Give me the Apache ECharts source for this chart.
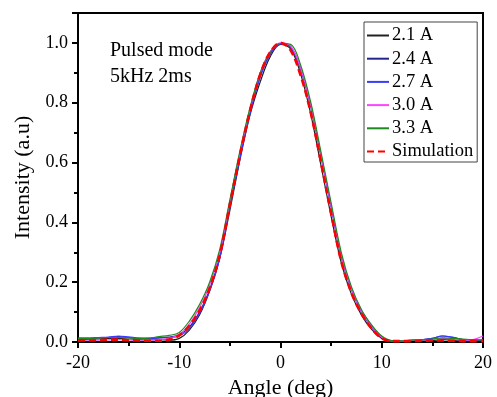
<!DOCTYPE html>
<html>
<head>
<meta charset="utf-8">
<script src="https://cdn.jsdelivr.net/npm/echarts@6/dist/echarts.min.js"></script>
<style>html,body{margin:0;padding:0;background:#fff}#c{width:497px;height:397px}</style>
</head>
<body>
<div id="c"></div>
<script>
const angles = [-20,-19,-18,-17,-16,-15,-14,-13,-12,-11,-10,-9,-8,-7,-6,-5,-4,-3,-2,-1,0,1,2,3,4,5,6,7,8,9,10,11,12,13,14,15,16,17,18,19,20];
const seriesNames = ['2.1 A','2.4 A','2.7 A','3.0 A','3.3 A','Simulation'];
const seriesColors = ['#222222','#24248f','#3a3aff','#ff44ff','#1f8a1f','#ff0000'];
const i21 = [0.008,0.008,0.010,0.012,0.012,0.010,0.008,0.007,0.008,0.006,0.012,0.040,0.090,0.170,0.280,0.440,0.610,0.760,0.870,0.955,0.995,0.980,0.895,0.760,0.590,0.420,0.265,0.160,0.090,0.042,0.012,0.002,0.003,0.006,0.004,0.005,0.008,0.006,0.005,0.004,0.004];
const i24 = [0.012,0.012,0.014,0.015,0.018,0.015,0.012,0.012,0.014,0.016,0.025,0.050,0.100,0.175,0.285,0.455,0.620,0.770,0.890,0.965,0.998,0.985,0.910,0.785,0.620,0.450,0.285,0.175,0.100,0.050,0.015,0.004,0.004,0.005,0.008,0.012,0.020,0.015,0.008,0.006,0.005];
const i27 = [0.013,0.013,0.015,0.016,0.020,0.017,0.013,0.012,0.014,0.015,0.020,0.045,0.095,0.170,0.280,0.450,0.615,0.765,0.885,0.962,0.997,0.988,0.915,0.790,0.625,0.455,0.290,0.180,0.105,0.055,0.017,0.004,0.004,0.005,0.007,0.012,0.020,0.016,0.008,0.006,0.006];
const i30 = [0.005,0.006,0.006,0.007,0.008,0.007,0.006,0.006,0.008,0.012,0.025,0.060,0.115,0.190,0.300,0.470,0.635,0.780,0.900,0.972,1.000,0.990,0.915,0.790,0.625,0.455,0.290,0.178,0.102,0.052,0.016,0.004,0.004,0.005,0.006,0.008,0.012,0.010,0.006,0.008,0.020];
const i33 = [0.012,0.012,0.014,0.015,0.015,0.014,0.012,0.013,0.018,0.022,0.032,0.070,0.125,0.200,0.310,0.475,0.640,0.785,0.900,0.970,0.998,0.995,0.925,0.800,0.635,0.465,0.300,0.185,0.108,0.057,0.020,0.005,0.004,0.006,0.007,0.010,0.014,0.012,0.010,0.008,0.007];
const sim = [0.005,0.005,0.006,0.008,0.008,0.006,0.005,0.004,0.004,0.008,0.022,0.055,0.105,0.180,0.290,0.460,0.625,0.775,0.895,0.970,1.000,0.975,0.890,0.765,0.600,0.430,0.270,0.165,0.095,0.045,0.012,0.003,0.003,0.003,0.004,0.005,0.005,0.004,0.003,0.003,0.003];
const seriesValues = [i21,i24,i27,i30,i33,sim];
const xTicks = {min:-20, max:20, interval:10};
const yTicks = {min:0, max:1.1, interval:0.2};
const annotation = 'Pulsed mode\n5kHz 2ms';

const font = 'Liberation Serif';
const chart = echarts.init(document.getElementById('c'), null, {renderer:'canvas'});
const series = seriesValues.map((vals, k) => {
  const isSim = k === seriesValues.length - 1;
  return {
    name: seriesNames[k],
    type: 'line',
    data: angles.map((a, i) => [a, vals[i]]),
    smooth: 0.35,
    symbol: 'none',
    showSymbol: false,
    z: isSim ? 10 : 2 + k,
    lineStyle: {color: seriesColors[k], width: isSim ? 2.6 : 1.2, type: isSim ? [7,4] : 'solid'},
    itemStyle: {color: seriesColors[k]}
  };
});
chart.setOption({
  animation: false,
  backgroundColor: '#fff',
  textStyle: {fontFamily: font},
  title: {
    text: annotation, left: 110, top: 38, padding: 0,
    textStyle: {fontFamily: font, fontSize: 20, fontWeight: 'normal', color: '#000', lineHeight: 26}
  },
  legend: {
    orient: 'vertical', left: 364, top: 22, width: 112,
    padding: [4, 4, 1, 2], itemGap: 4.2, itemWidth: 22, itemHeight: 18,
    borderColor: '#444', borderWidth: 1,
    itemStyle: {opacity: 0},
    data: seriesNames,
    textStyle: {fontFamily: font, fontSize: 18.5, color: '#000', padding: [0,0,0,-2]}
  },
  grid: {left: 78, right: 14, top: 13, bottom: 55, outerBoundsMode: 'none', containLabel: false,
    show: true, borderColor: '#000', borderWidth: 2, backgroundColor: 'transparent'},
  xAxis: {
    type: 'value', min: xTicks.min, max: xTicks.max, interval: xTicks.interval,
    name: 'Angle (deg)', nameLocation: 'middle', nameGap: 26,
    nameTextStyle: {fontFamily: font, fontSize: 22, color: '#000'},
    axisLine: {onZero: false, lineStyle: {color: '#000', width: 2}},
    axisTick: {length: 6, lineStyle: {color: '#000', width: 2}},
    minorTick: {show: true, splitNumber: 2, length: 4, lineStyle: {color: '#000', width: 2}},
    splitLine: {show: false},
    axisLabel: {fontFamily: font, fontSize: 18, color: '#000', margin: 12}
  },
  yAxis: {
    type: 'value', min: yTicks.min, max: yTicks.max, interval: yTicks.interval,
    name: 'Intensity (a.u)', nameLocation: 'middle', nameGap: 43,
    nameTextStyle: {fontFamily: font, fontSize: 22, color: '#000'},
    axisLine: {onZero: false, lineStyle: {color: '#000', width: 2}},
    axisTick: {length: 6, lineStyle: {color: '#000', width: 2}},
    minorTick: {show: true, splitNumber: 2, length: 4, lineStyle: {color: '#000', width: 2}},
    splitLine: {show: false},
    axisLabel: {fontFamily: font, fontSize: 18, color: '#000', margin: 10,
      showMaxLabel: false,
      formatter: v => v.toFixed(1)}
  },
  series: series
});
</script>
</body>
</html>
